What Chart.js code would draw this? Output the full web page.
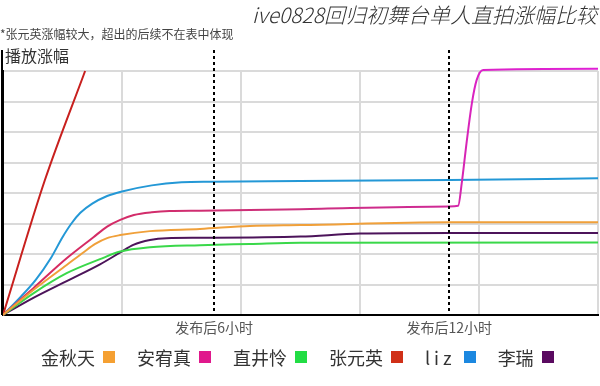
<!doctype html>
<html lang="zh">
  <head>
    <meta charset="utf-8">
    <title>ive0828回归初舞台单人直拍涨幅比较</title>
    <style>
      * { margin: 0; padding: 0; }
      body { background: #fff; font-family: "Noto Sans CJK SC", "Noto Sans", sans-serif; }
      .wrap { position: relative; width: 600px; height: 386px; background: #fff; overflow: hidden; }
      .title {
        position: absolute; right: 3px; top: 0;
        font-size: 21px; line-height: 28px; font-style: italic; font-weight: 300; color: #333;
      }
      .note { position: absolute; left: 0; top: 26px; font-size: 12px; line-height: 16px; color: #444; }
      .ylabel { position: absolute; left: 5px; top: 45px; font-size: 16px; line-height: 20px; color: #333; }
      .legend { position: absolute; left: 41px; top: 345px; display: flex; font-size: 18px; line-height: 24px; color: #333; }
      .legend span.item { display: flex; align-items: center; margin-right: 22px; }
      .legend i { display: inline-block; width: 12px; height: 12px; margin-left: 8px; }
    </style>
  </head>
  <body>
    <div class="wrap">
      <canvas id="myChart"></canvas>
      <div class="title">ive0828回归初舞台单人直拍涨幅比较</div>
      <div class="note">*张元英涨幅较大，超出的后续不在表中体现</div>
      <div class="ylabel">播放涨幅</div>
      <div class="legend" id="legend"></div>
    </div>

    <script src="https://cdn.jsdelivr.net/npm/chart.js"></script>
    <script>
    // series names and colours (legend order)
    const names = ['金秋天', '安宥真', '直井怜', '张元英', 'liz', '李瑞'];
    const lineColors = ['#f0a03a', '#d42a6e', '#3ad84a', '#c8201e', '#2498d6', '#4c145a'];
    const boxColors = ['#f5a032', '#e0188c', '#22dd44', '#d03018', '#1c88e0', '#5a0a60'];

    // values, [x, y] (x: 0..10 across the plot, y: 0..8 grid steps)
    const jinQiutian = [[0,0],[0.51,0.82],[1.07,1.64],[1.35,2.05],[1.55,2.33],[1.75,2.52],[1.97,2.62],[2.47,2.75],[3.31,2.82],[4.15,2.92],[5.0,2.95],[7.5,3.04],[10,3.04]];
    const anYujin = [[0,0],[0.51,0.88],[1.07,1.86],[1.52,2.55],[1.75,2.9],[1.97,3.12],[2.2,3.28],[2.5,3.37],[2.8,3.41],[3.31,3.42],[4.15,3.44],[5.0,3.47],[7.5,3.56],[7.65,3.58],[7.71,4.32],[7.79,5.63],[7.88,6.94],[7.96,7.70],[8.07,8.03],[10,8.07]];
    const naoiRei = [[0,0],[0.51,0.71],[1.07,1.37],[1.63,1.83],[1.97,2.08],[2.47,2.22],[3.31,2.29],[4.15,2.33],[5.0,2.37],[10,2.38]];
    const zhangYuanying = [[0,0],[0.70,4.4],[1.38,8.0]];
    const liz = [[0,0],[0.3,0.6],[0.55,1.15],[0.8,1.85],[1.0,2.55],[1.15,3.0],[1.3,3.35],[1.5,3.65],[1.75,3.9],[2.0,4.05],[2.5,4.25],[3.0,4.35],[3.5,4.37],[5.0,4.39],[7.5,4.43],[10,4.48]];
    const liRui = [[0,0],[0.51,0.56],[1.07,1.11],[1.63,1.66],[1.97,2.05],[2.19,2.30],[2.47,2.46],[2.75,2.52],[3.31,2.53],[5.0,2.57],[6.0,2.67],[7.5,2.69],[10,2.69]];
    const series = [jinQiutian, anYujin, naoiRei, zhangYuanying, liz, liRui];

    // release marks on the x axis
    const markX = [3.55, 7.5];
    const markLabels = ['发布后6小时', '发布后12小时'];

    // pink line goes from crimson to magenta
    function pinkGradient(context) {
      const chart = context.chart;
      const area = chart.chartArea;
      if (!area) return lineColors[1];
      const g = chart.ctx.createLinearGradient(area.left, 0, area.right, 0);
      g.addColorStop(0, '#d92a5a');
      g.addColorStop(0.45, '#cc2f7a');
      g.addColorStop(0.74, '#cf2a96');
      g.addColorStop(0.8, '#dc22c8');
      g.addColorStop(1, '#e020d6');
      return g;
    }

    const datasets = series.map((pts, i) => ({
      label: names[i],
      data: pts.map(p => ({ x: p[0], y: p[1] })),
      borderColor: i === 1 ? pinkGradient : lineColors[i],
      borderWidth: 2,
      pointRadius: 0,
      cubicInterpolationMode: 'monotone',
      clip: 4
    }));

    // dashed release lines, their labels, and the y axis running up past the grid
    const releaseMarks = {
      id: 'releaseMarks',
      afterDatasetsDraw(chart) {
        const { ctx, chartArea: { top, bottom, left }, scales: { x } } = chart;
        ctx.save();
        ctx.strokeStyle = '#000';
        ctx.lineWidth = 2;
        ctx.beginPath();
        ctx.moveTo(left - 1, top - 21);
        ctx.lineTo(left - 1, bottom);
        ctx.stroke();

        ctx.setLineDash([3, 3]);
        markX.forEach(v => {
          const px = Math.round(x.getPixelForValue(v));
          ctx.beginPath();
          ctx.moveTo(px, top - 21);
          ctx.lineTo(px, bottom);
          ctx.stroke();
        });
        ctx.setLineDash([]);

        ctx.font = '14px "Noto Sans CJK SC"';
        ctx.fillStyle = '#555';
        ctx.textAlign = 'center';
        ctx.textBaseline = 'middle';
        markX.forEach((v, i) => {
          ctx.fillText(markLabels[i], x.getPixelForValue(v), bottom + 13);
        });
        ctx.restore();
      }
    };

    const config = {
      type: 'line',
      data: { datasets },
      options: {
        responsive: true,
        maintainAspectRatio: false,
        animation: false,
        layout: { padding: { left: 3, right: 2, top: 71, bottom: 71 } },
        plugins: { legend: { display: false }, tooltip: { enabled: false } },
        scales: {
          x: {
            type: 'linear', min: 0, max: 10,
            ticks: { display: false, stepSize: 2 },
            grid: { color: '#dadada', lineWidth: 2, drawTicks: false },
            border: { color: '#000', width: 2 }
          },
          y: {
            min: 0, max: 8,
            ticks: { display: false, stepSize: 1 },
            grid: { color: '#dadada', lineWidth: 2, drawTicks: false },
            border: { color: '#000', width: 2 }
          }
        }
      },
      plugins: [releaseMarks]
    };

    const myChart = new Chart(document.getElementById('myChart'), config);

    // legend: name first, colour box after it
    const legend = document.getElementById('legend');
    names.forEach((n, i) => {
      const item = document.createElement('span');
      item.className = 'item';
      const t = document.createElement('span');
      t.textContent = n;
      if (/^[a-z]+$/i.test(n)) t.style.letterSpacing = '4px';
      const box = document.createElement('i');
      box.style.background = boxColors[i];
      item.appendChild(t);
      item.appendChild(box);
      legend.appendChild(item);
    });
    </script>
  </body>
</html>
